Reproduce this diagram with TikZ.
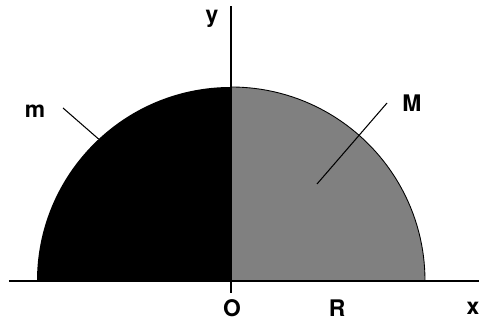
\documentclass[tikz,border=0pt]{standalone}
\usepackage{fontspec}
\setmainfont{TeX Gyre Heros}
\usetikzlibrary{positioning}

\begin{document}
\begin{tikzpicture}[
  x=0.2mm, y=0.2mm,
  lbl/.style={font=\fontsize{13}{15}\selectfont\bfseries, inner sep=0pt},
  axis/.style={line width=0.7pt},
  lead/.style={line width=0.6pt}
]
  \useasboundingbox (-231,-39) rectangle (248,281);

  % halves of the disc
  \fill[black] (0,0) -- (-194,0) arc[start angle=180, end angle=90, radius=38.8mm] -- cycle;
  \filldraw[fill=black!50, draw=black, line width=0.5pt] (0,0) -- (194,0) arc[start angle=0, end angle=90, radius=38.8mm] -- cycle;

  % axes
  \coordinate (O) at (0,0);
  \coordinate (xl) at (-222,0);
  \coordinate (xr) at (248,0);
  \coordinate (yb) at (0,-12);
  \coordinate (yt) at (0,275);
  \draw[axis] (xl) -- (xr);
  \draw[axis] (yb) -- (yt);

  \node[lbl] (ylab) at (-19,262) {y};
  \node[lbl] (olab) at (1,-27) {O};
  \node[lbl] (rlab) at (106,-27) {R};
  \node[lbl] (xlab) at (242,-27) {x};

  % mass labels
  \node[lbl] (m) at (-196,170) {m};
  \node[lbl] (M) at (181,178) {M};
  \coordinate (mstart) at (-168,173);
  \coordinate (mend) at (133:194);
  \coordinate (Mstart) at (156,178);
  \coordinate (Mend) at (86,97);
  \draw[lead] (mstart) -- (mend);
  \draw[lead] (Mstart) -- (Mend);
\end{tikzpicture}
\end{document}
